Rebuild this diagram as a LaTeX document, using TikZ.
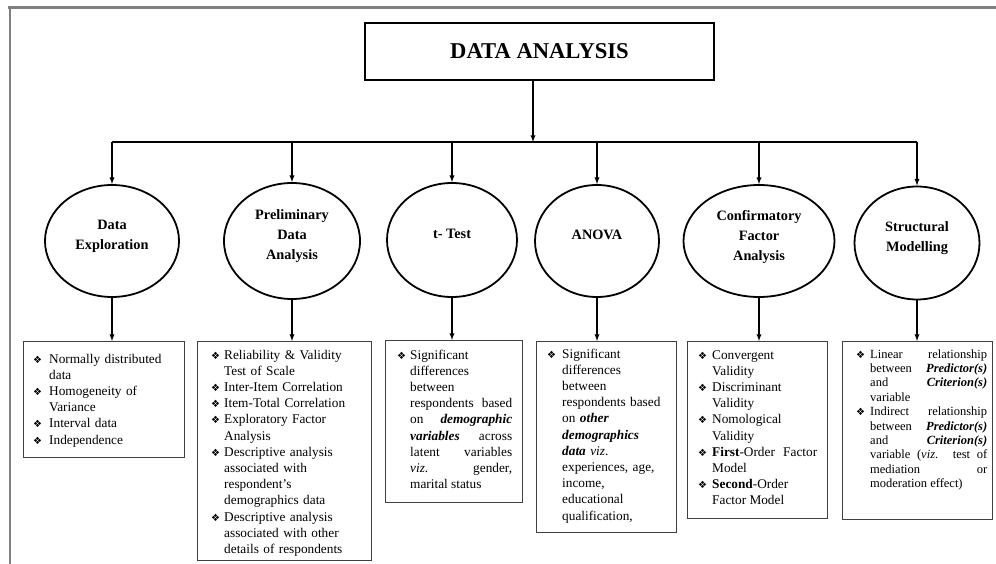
\documentclass[tikz,border=0pt]{standalone}
\usepackage{fontspec}
\setmainfont{Liberation Serif}
\newfontfamily\dingfont{DejaVu Sans}
\usetikzlibrary{shapes.geometric}

\newcommand{\bul}{{\dingfont\fontsize{10}{10}\selectfont\char"2756}}
\newcommand{\itm}[1][14pt]{\noindent\hangindent=#1\hangafter=1\makebox[#1][l]{\bul}}
\newcommand{\bi}[1]{\textbf{\textit{#1}}}

\begin{document}
\begin{tikzpicture}[x=1pt,y=-1pt]
\tikzset{edge/.style = {->,> = latex, line width=1.3pt}}
\tikzset{oval/.style = {ellipse, draw, line width=1.8pt, align=center, inner sep=0pt,
  text depth=12pt, font=\fontsize{14.3}{20}\selectfont\bfseries}}
\tikzset{listbox/.style = {draw=black!75, line width=1pt, anchor=north west, inner sep=0pt}}
\tikzset{listtext/.style = {anchor=base west, inner sep=0pt, align=left,
  font=\fontsize{13.3}{16.2}\selectfont}}

\useasboundingbox (0,0) rectangle (996,564);
% page frame
\draw[gray, line width=3pt] (8,8) -- (996,8);
\draw[gray, line width=2pt] (10,8) -- (10,564);

\node[draw, line width=2.5pt, minimum width=349pt, minimum height=57pt,
  font=\fontsize{22.6}{26}\selectfont\bfseries] (top) at (539.5,51.5) {DATA ANALYSIS};

\node[oval, minimum width=134pt, minimum height=112pt] (e1) at (112,241) {Data\\Exploration};
\node[oval, minimum width=136pt, minimum height=116pt] (e2) at (292,241) {Preliminary\\Data\\Analysis};
\node[oval, minimum width=130pt, minimum height=114pt] (e3) at (452,240) {t- Test};
\node[oval, minimum width=124pt, minimum height=112pt] (e4) at (597,241) {ANOVA};
\node[oval, minimum width=151pt, minimum height=112pt] (e5) at (759,241) {Confirmatory\\Factor\\Analysis};
\node[oval, minimum width=125pt, minimum height=113pt] (e6) at (917,243) {Structural\\Modelling};

% bus
\coordinate (hub) at (533,142);
\draw[edge] (top.south -| hub) -- (hub);
\draw[line width=1.3pt] (e1.north |- hub) -- (e6.north |- hub);
\foreach \n in {e1,e2,e3,e4,e5,e6}
  {\draw[edge] (\n.north |- hub) -- (\n.north);}

% boxes
\node[listbox, minimum width=161pt, minimum height=116pt] (b1) at (23,341) {};
\node[listbox, minimum width=174pt, minimum height=219pt] (b2) at (197,341) {};
\node[listbox, minimum width=137pt, minimum height=162pt] (b3) at (385,340) {};
\node[listbox, minimum width=140pt, minimum height=191pt] (b4) at (536,341) {};
\node[listbox, minimum width=140pt, minimum height=177pt] (b5) at (687,341) {};
\node[listbox, minimum width=150pt, minimum height=178pt] (b6) at (842,341) {};

\foreach \n/\b in {e1/b1,e2/b2,e3/b3,e4/b4,e5/b5,e6/b6}
  {\draw[edge] (\n.south) -- (\n.south |- \b.north);}

\node[listtext, text width=143pt] (t1) at ([xshift=10pt,yshift=-22pt]b1.north west)
  {\itm[16pt]Normally distributed\linebreak data\par
   \itm[16pt]Homogeneity of\linebreak Variance\par
   \itm[16pt]Interval data\par
   \itm[16pt]Independence\par};

\node[listtext, text width=150pt] (t2) at ([xshift=14pt,yshift=-18pt]b2.north west)
  {\itm[13pt]Reliability \& Validity\linebreak Test of Scale\par
   \itm[13pt]Inter-Item Correlation\par
   \itm[13pt]Item-Total Correlation\par
   \itm[13pt]Exploratory Factor\linebreak Analysis\par
   \itm[13pt]Descriptive analysis\linebreak associated with\linebreak respondent's\linebreak demographics data\par
   \itm[13pt]Descriptive analysis\linebreak associated with other\linebreak details of respondents\par};

\node[listtext, align=justify, text width=115pt] (t3) at ([xshift=12pt,yshift=-19pt]b3.north west)
  {\itm[13pt]Significant\linebreak differences\linebreak between\linebreak respondents based\linebreak
   on \bi{demographic}\linebreak \bi{variables} across\linebreak latent variables\linebreak
   \textit{viz}. gender,\linebreak marital status\par};

\node[listtext, text width=121pt] (t4) at ([xshift=11pt,yshift=-17pt]b4.north west)
  {\itm[15pt]Significant\linebreak differences\linebreak between\linebreak respondents based\linebreak
   on \bi{other}\linebreak \bi{demographics}\linebreak \bi{data} \textit{viz}.\linebreak
   experiences, age,\linebreak income,\linebreak educational\linebreak qualification,\par};

\node[listtext, align=justify, text width=119pt] (t5) at ([xshift=11pt,yshift=-18pt]b5.north west)
  {\itm Convergent\linebreak Validity\par
   \itm Discriminant\linebreak Validity\par
   \itm Nomological\linebreak Validity\par
   \itm \textbf{First}-Order Factor\linebreak Model\par
   \itm \textbf{Second}-Order\linebreak Factor Model\par};

\node[listtext, align=justify, text width=131pt, font=\fontsize{12.5}{14.4}\selectfont] (t6)
  at ([xshift=14pt,yshift=-17pt]b6.north west)
  {\itm Linear relationship\linebreak between \bi{Predictor(s)}\linebreak and \bi{Criterion(s)}\linebreak variable\par
   \itm Indirect relationship\linebreak between \bi{Predictor(s)}\linebreak and \bi{Criterion(s)}\linebreak
   variable (\textit{viz}. test of\linebreak mediation or\linebreak moderation effect)\par};

\end{tikzpicture}
\end{document}
